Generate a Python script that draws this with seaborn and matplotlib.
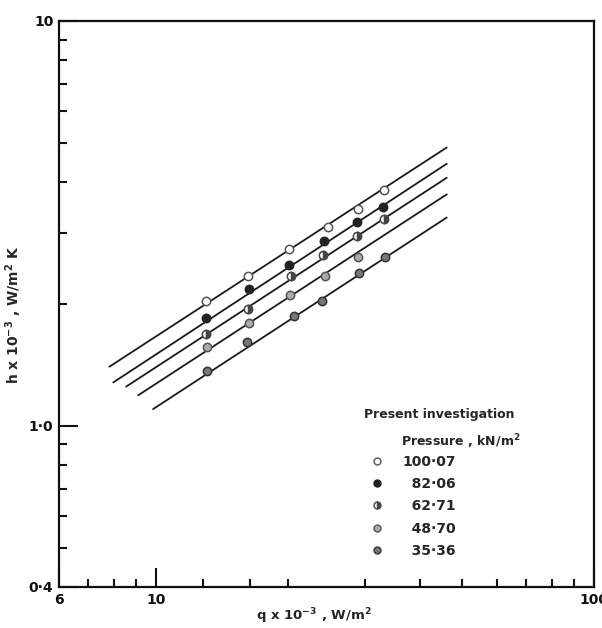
"""
Waermeuebergangskoeffizient h gegen Waermestromdichte q (log-log),
fuenf Druckstufen mit Ausgleichsgeraden.
"""

import pandas as pd
import matplotlib.pyplot as plt
import seaborn as sns
from matplotlib.lines import Line2D
from matplotlib.ticker import FixedLocator, FixedFormatter, NullFormatter

# Druckstufen (kN/m^2) und Legendentexte
pressures = ["100.07", "82.06", "62.71", "48.70", "35.36"]
labels = ["100\u00b707", "\u200782\u00b706", "\u200762\u00b771", "\u200748\u00b770", "\u200735\u00b736"]

# Messpunkte q x 10^-3 (W/m^2), h x 10^-3 (W/m^2 K)
q_points = [
    [13.0, 16.2, 20.1, 24.7, 28.9, 33.2],
    [13.0, 16.3, 20.1, 24.2, 28.8, 33.0],
    [13.0, 16.2, 20.3, 24.1, 28.8, 33.2],
    [13.1, 16.3, 20.2, 24.3, 28.9],
    [13.1, 16.1, 20.7, 23.9, 29.1, 33.3],
]
h_points = [
    [2.04, 2.35, 2.73, 3.09, 3.44, 3.83],
    [1.85, 2.18, 2.49, 2.86, 3.18, 3.48],
    [1.69, 1.94, 2.35, 2.64, 2.95, 3.24],
    [1.57, 1.79, 2.10, 2.34, 2.62],
    [1.37, 1.61, 1.87, 2.03, 2.38, 2.61],
]

# Ausgleichsgeraden: Anfangs- und Endpunkte
line_q_start = [7.82, 7.98, 8.54, 9.10, 9.84]
line_h_start = [1.40, 1.28, 1.25, 1.19, 1.10]
line_q_end = [46.1, 46.1, 46.1, 46.1, 46.1]
line_h_end = [4.87, 4.44, 4.10, 3.73, 3.27]

# Markerstile je Druckstufe
marker_styles = [
    dict(markerfacecolor="white", markeredgecolor="#555555", fillstyle="full"),
    dict(markerfacecolor="#222222", markeredgecolor="#222222", fillstyle="full"),
    dict(markerfacecolor="#444444", markerfacecoloralt="white", markeredgecolor="#444444", fillstyle="right"),
    dict(markerfacecolor="#aaaaaa", markeredgecolor="#555555", fillstyle="full"),
    dict(markerfacecolor="#777777", markeredgecolor="#333333", fillstyle="full"),
]

sns.set_style("ticks")
plt.rcParams["font.family"] = ["DejaVu Sans"]
plt.rcParams["font.weight"] = "bold"

fig = plt.figure(figsize=(6.02, 6.28), dpi=100)
ax = fig.add_axes([0.098, 0.0653, 0.8887, 0.9013])

# Geraden
rows = []
for p, qs, hs, qe, he in zip(pressures, line_q_start, line_h_start, line_q_end, line_h_end):
    rows.append({"p": p, "q": qs, "h": hs})
    rows.append({"p": p, "q": qe, "h": he})
lines_df = pd.DataFrame(rows)
sns.lineplot(
    data=lines_df, x="q", y="h", hue="p", palette=["#1a1a1a"] * 5,
    estimator=None, sort=False, legend=False, linewidth=1.3, ax=ax,
)

# Messpunkte
handles = []
for qs, hs, st in zip(q_points, h_points, marker_styles):
    ax.plot(qs, hs, linestyle="none", marker="o", markersize=6, markeredgewidth=1.1, **st)
    handles.append(Line2D([], [], linestyle="none", marker="o", markersize=5,
                          markeredgewidth=1.0, **st))

ax.set_xscale("log")
ax.set_yscale("log")
ax.set_xlim(6, 100)
ax.set_ylim(0.4, 10)

ax.xaxis.set_major_locator(FixedLocator([6, 10, 100]))
ax.xaxis.set_major_formatter(FixedFormatter(["6", "10", "100"]))
ax.xaxis.set_minor_locator(FixedLocator([7, 8, 9, 12.8, 16.4, 20, 30, 40, 50, 60, 70, 80, 90]))
ax.xaxis.set_minor_formatter(NullFormatter())
ax.yaxis.set_major_locator(FixedLocator([0.4, 1, 10]))
ax.yaxis.set_major_formatter(FixedFormatter(["0\u00b74", "1\u00b70", "10"]))
ax.yaxis.set_minor_locator(FixedLocator([0.5, 0.6, 0.7, 0.8, 0.9, 2, 3, 4, 5, 6, 7, 8, 9]))
ax.yaxis.set_minor_formatter(NullFormatter())

ax.tick_params(which="both", direction="in", color="#111111", width=1.5,
               labelsize=10, labelcolor="#111111")
ax.tick_params(which="major", length=14, pad=4)
ax.tick_params(which="minor", length=6)
for sp in ax.spines.values():
    sp.set_linewidth(1.6)
    sp.set_color("#111111")

ax.set_xlabel("q x 10$^{-3}$ , W/m$^2$", fontsize=9.5, fontweight="bold",
              va="center", ha="center")
ax.set_ylabel("h x 10$^{-3}$ , W/m$^2$ K", fontsize=10, fontweight="bold",
              va="center", ha="center")
ax.xaxis.set_label_coords(0.477, -0.051)
ax.yaxis.set_label_coords(-0.084, 0.48)

# Legende
ax.text(0.57, 0.305, "Present investigation", transform=ax.transAxes,
        fontsize=9, fontweight="bold", va="center", ha="left")
ax.text(0.64, 0.257, "Pressure , kN/m$^2$", transform=ax.transAxes,
        fontsize=9, fontweight="bold", va="center", ha="left")
ax.legend(
    handles, labels, loc="upper left", bbox_to_anchor=(0.581, 0.234),
    frameon=False, handlelength=1.0, handletextpad=1.35,
    labelspacing=0.6, borderpad=0, borderaxespad=0,
    prop={"weight": "bold", "size": 10},
)

plt.savefig("out.png", dpi=100)
